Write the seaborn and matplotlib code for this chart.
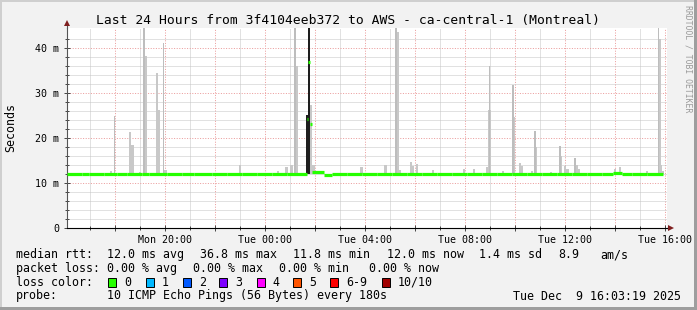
import numpy as np
import pandas as pd
import matplotlib
matplotlib.use("Agg")
import matplotlib.pyplot as plt
from matplotlib.patches import Rectangle
import seaborn as sns

# ---------------- data ----------------
TITLE = "Last 24 Hours from 3f4104eeb372 to AWS - ca-central-1 (Montreal)"
START_CLOCK = 16 + 3 / 60 + 19 / 3600      # Mon 16:03:19 (hours since Mon 00:00)
SPAN_H = 24.0
Y_MAX_MS = 44.44

# median rtt (ms) as steps: start hour (from graph start) and value
med_t = [0.00, 0.60, 0.90, 1.50, 2.00, 2.40, 3.00, 3.30, 4.00, 4.60, 5.10, 5.80,
         6.40, 7.00, 7.60, 8.20, 8.80, 9.60, 9.66, 9.74, 9.81, 10.30, 10.60,
         11.20, 11.80, 12.40, 13.00, 13.60, 14.20, 14.80, 15.40, 16.00, 16.60,
         17.20, 17.80, 18.40, 19.00, 19.60, 20.20, 20.80, 21.40, 21.85, 22.20,
         22.60, 23.20]
med_v = [12.0, 11.9, 12.0, 11.9, 12.0, 12.1, 12.0, 11.9, 12.0, 11.9, 12.0, 11.9,
         12.0, 12.0, 11.9, 12.0, 12.0, 24.2, 36.8, 23.1, 12.4, 11.8, 12.0,
         12.0, 11.9, 12.0, 12.1, 12.0, 11.9, 12.0, 12.0, 11.9, 12.0,
         12.0, 11.9, 12.0, 12.0, 11.9, 12.0, 12.0, 11.9, 12.3, 12.0,
         11.9, 12.0]
MED_END = 23.86

# smoke (spread of pings), top in ms
smoke_t = [1.77, 2.53, 2.63, 2.93, 3.15, 3.61, 3.69, 3.95, 6.93, 8.45, 8.79, 8.99,
           9.19, 9.75, 9.87, 11.79, 12.75, 13.23, 13.31, 13.77, 13.85, 14.01,
           14.65, 15.89, 16.29, 16.81, 16.91, 17.45, 17.89, 18.13, 18.21, 18.61,
           18.77, 19.37, 19.77, 19.93, 20.03, 20.39, 20.47, 21.93, 22.13, 23.21,
           23.71, 23.77, 23.85]
smoke_top = [12.6, 21.4, 18.4, 12.5, 38.2, 34.5, 26.2, 12.8, 14.0, 12.6, 13.6, 14.0,
             35.9, 27.3, 14.0, 13.6, 14.0, 43.6, 12.9, 14.7, 13.7, 14.2,
             12.8, 13.0, 13.0, 13.6, 26.2, 12.7, 24.7, 14.5, 13.8, 12.7,
             18.0, 12.5, 16.0, 13.7, 13.0, 14.0, 13.1, 13.0, 13.6, 12.7,
             42.1, 14.0, 12.7]
# single highest pings (thin lines)
peak_t = [1.91, 3.09, 3.87, 9.13, 13.17, 16.91, 17.85, 18.73, 19.73, 20.33, 23.67]
peak_top = [24.9, 44.4, 41.0, 44.4, 44.4, 35.9, 31.8, 21.6, 18.3, 15.6, 44.4]
# dense smoke during the latency event
dark_t = [9.61, 9.71]
dark_top = [25.0, 44.4]

xtick_clock = [20, 24, 28, 32, 36, 40]
xtick_labels = ["Mon 20:00", "Tue 00:00", "Tue 04:00", "Tue 08:00", "Tue 12:00", "Tue 16:00"]
ytick_vals = [0, 10, 20, 30, 40]
ytick_labels = ["0", "10 m", "20 m", "30 m", "40 m"]

loss_labels = ["0", "1", "2", "3", "4", "5", "6-9", "10/10"]
loss_colors = ["#26ff00", "#00b8ff", "#0059ff", "#7e00ff", "#ff00ff", "#ff5500", "#ff0000", "#a10000"]

row_rtt = ["median rtt:", "12.0 ms avg", "36.8 ms max", "11.8 ms min", "12.0 ms now",
           "1.4 ms sd", "8.9", "am/s"]
row_loss = ["packet loss:", "0.00 % avg", "0.00 % max", "0.00 % min", "0.00 % now"]
row_probe = ["probe:", "10 ICMP Echo Pings (56 Bytes) every 180s", "Tue Dec  9 16:03:19 2025"]

# ---------------- drawing ----------------
W, H = 697, 310
plt.rcParams["font.family"] = ["DejaVu Sans Mono", "DejaVu Sans"]
fig = plt.figure(figsize=(W / 100, H / 100), dpi=100)
fig.patch.set_facecolor("#f2f2f2")

def fx(x):
    return x / W

def fy(y):
    return 1 - y / H

ax = fig.add_axes([66.7 / W, (H - 228) / H, 600 / W, 200 / H])
ax.set_facecolor("white")
ax.set_xlim(0, SPAN_H)
ax.set_ylim(0, Y_MAX_MS)

base = 11.9
ax.bar(smoke_t, np.array(smoke_top) - base, bottom=base, width=0.10,
       color="#c8c8c8", linewidth=0, zorder=2)
ax.bar(peak_t, np.array(peak_top) - base, bottom=base, width=0.045,
       color="#bdbdbd", linewidth=0, zorder=2)
ax.bar(dark_t, np.array(dark_top) - base, bottom=base, width=[0.05, 0.08],
       color="#1e1e1e", linewidth=0, zorder=3)

# median line, drawn as horizontal step segments
rows = []
ends = med_t[1:] + [MED_END]
for i, (t0, t1, v) in enumerate(zip(med_t, ends, med_v)):
    rows.append({"t": t0, "v": v, "seg": i})
    rows.append({"t": t1, "v": v, "seg": i})
df = pd.DataFrame(rows)
sns.lineplot(data=df, x="t", y="v", units="seg", estimator=None, color="#26ff00",
             linewidth=2.3, ax=ax, legend=False, zorder=4, solid_capstyle="butt")
ax.set_xlabel("")
ax.set_ylabel("")

# grid / ticks
major_x = [c - START_CLOCK for c in range(18, 41, 2)]
minor_x = [c - START_CLOCK for c in range(17, 41)]
ax.set_xticks(major_x)
ax.set_xticklabels([xtick_labels[xtick_clock.index(c)] if c in xtick_clock else ""
                    for c in range(18, 41, 2)])
ax.set_xticks(minor_x, minor=True)
ax.set_yticks(ytick_vals)
ax.set_yticklabels(ytick_labels)
ax.set_yticks(np.arange(2, 44, 2), minor=True)
ax.grid(which="major", color="#eb9c9c", linewidth=0.72, linestyle=(0, (1, 1.6)))
ax.grid(which="minor", color="#c4c4c4", linewidth=0.72, linestyle=(0, (1, 1)))
ax.set_axisbelow(True)
ax.tick_params(axis="both", which="major", direction="inout", length=4, width=0.7,
               color="#444444", labelsize=7.2)
ax.tick_params(axis="both", which="minor", direction="inout", length=3, width=0.7,
               color="#444444")
ax.tick_params(axis="x", which="major", pad=3.0)
ax.tick_params(axis="y", which="major", pad=3.2)

for s in ["top", "right"]:
    ax.spines[s].set_visible(False)
ax.spines["left"].set_color("#555555")
ax.spines["left"].set_linewidth(0.8)
ax.spines["bottom"].set_color("#000000")
ax.spines["bottom"].set_linewidth(0.8)
ax.plot([0, 0], [Y_MAX_MS, 45.2], color="#555555", lw=0.8, clip_on=False, zorder=5)
ax.plot([SPAN_H, 24.1], [0, 0], color="#000000", lw=0.8, clip_on=False, zorder=5)
ax.plot([0], [45.45], marker="^", ms=4.5, color="#7f1f1f", mew=0, clip_on=False, zorder=6)
ax.plot([24.16], [0], marker=">", ms=4.5, color="#7f1f1f", mew=0, clip_on=False, zorder=6)

# texts
fig.text(fx(347.5), fy(24), TITLE, ha="center", va="baseline", fontsize=9.4, color="black")
fig.text(fx(11), fy(127), "Seconds", rotation=90, ha="center", va="center", fontsize=8.4)
fig.text(fx(688), fy(59), "RRDTOOL / TOBI OETIKER", rotation=270, ha="center", va="center",
         fontsize=5.9, color="#9a9a9a")

LF = 8.37
x_rtt = [16, 107.3, 200, 292.7, 386.7, 479.3, 558.3, 600]
for s, x in zip(row_rtt, x_rtt):
    fig.text(fx(x), fy(258.3), s, ha="left", va="baseline", fontsize=LF)
x_loss = [16, 107.3, 193.3, 279.3, 369.3]
for s, x in zip(row_loss, x_loss):
    fig.text(fx(x), fy(272.3), s, ha="left", va="baseline", fontsize=LF)
fig.text(fx(16), fy(285.9), "loss color:", ha="left", va="baseline", fontsize=LF)
box_x = [108.3, 145.7, 182.7, 219.3, 256.7, 293.3, 330.0, 381.7]
for lab, col, bx in zip(loss_labels, loss_colors, box_x):
    fig.add_artist(Rectangle((fx(bx), fy(286.7)), 8 / W, 8.3 / H, transform=fig.transFigure,
                             facecolor=col, edgecolor="black", linewidth=0.7))
    fig.text(fx(bx + 16), fy(285.9), lab, ha="left", va="baseline", fontsize=LF)
x_probe = [16, 107.3, 513.3]
for s, x in zip(row_probe, x_probe):
    fig.text(fx(x), fy(299.5), s, ha="left", va="baseline", fontsize=LF)

# 3D frame of the image
fig.add_artist(Rectangle((0, 1 - 2 / H), 1, 2 / H, transform=fig.transFigure,
                         facecolor="#cfcfcf", edgecolor="none"))
fig.add_artist(Rectangle((0, 0), 2 / W, 1, transform=fig.transFigure,
                         facecolor="#cfcfcf", edgecolor="none"))
fig.add_artist(Rectangle((0, 0), 1, 3 / H, transform=fig.transFigure,
                         facecolor="#9e9e9e", edgecolor="none"))
fig.add_artist(Rectangle((1 - 3 / W, 0), 3 / W, 1, transform=fig.transFigure,
                         facecolor="#9e9e9e", edgecolor="none"))

fig.savefig("out.png", dpi=100, facecolor=fig.get_facecolor())
